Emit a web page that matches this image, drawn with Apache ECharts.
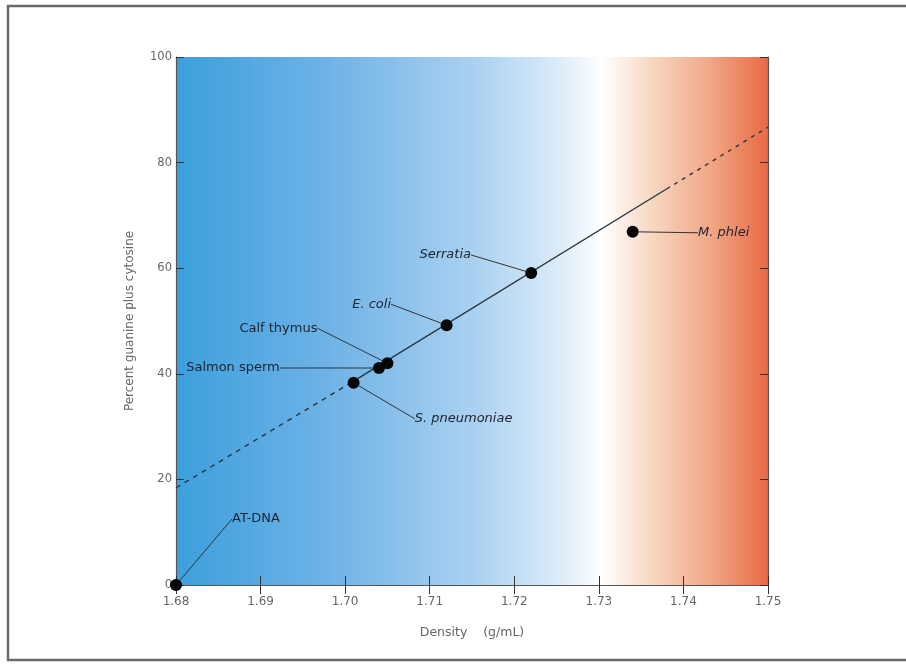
<!DOCTYPE html>
<html><head><meta charset="utf-8">
<script src="https://cdn.jsdelivr.net/npm/echarts@6/dist/echarts.min.js"></script>
<style>html,body{margin:0;padding:0;background:#fff}#c{width:906px;height:667px}</style>
</head><body><div id="c"></div>
<script>
// Data
const sampleNames = ['AT-DNA','S. pneumoniae','Salmon sperm','Calf thymus','E. coli','Serratia','M. phlei'];
const densities   = [1.680, 1.701, 1.704, 1.705, 1.712, 1.722, 1.734];
const gcPercent   = [0, 38.3, 41.1, 42.0, 49.2, 59.1, 66.9];
const italicNames = [false, true, false, false, true, true, true];
// fitted line: dashed lower extrapolation, solid middle, dashed upper extrapolation
const fitLowX  = [1.680, 1.701];  const fitLowY  = [18.4, 38.6];
const fitMidX  = [1.701, 1.738];  const fitMidY  = [38.6, 75.0];
const fitHighX = [1.738, 1.750];  const fitHighY = [75.0, 86.7];
const xTicks = [1.68,1.69,1.70,1.71,1.72,1.73,1.74,1.75];
const yTicks = [0,20,40,60,80,100];

// label offsets (px, from point centre to label centre)
const labelOffsets = [[80,-66],[110,36],[-146,0],[-109,-35],[-75,-21],[-86,-18],[91,1]];

const chart = echarts.init(document.getElementById('c'));
const pair = (xs, ys) => xs.map((x,i)=>[x, ys[i]]);
const font = '"DejaVu Sans", Verdana, sans-serif';

const fitStyle = (type) => ({type:'line', data:null, symbol:'none', silent:true, z:2,
  lineStyle:{color:'#2b3440', width:1.4, type:type}});

chart.setOption({
  animation:false,
  textStyle:{fontFamily:font},
  graphic:[{type:'rect', shape:{x:8,y:6,width:920,height:654}, style:{fill:'none', stroke:'#6a6a6a', lineWidth:2.5}, z:-10}],
  grid:{left:176, right:138, top:57, bottom:82, show:true, borderWidth:0,
    backgroundColor:new echarts.graphic.LinearGradient(0,0,1,0,[
      {offset:0, color:'#3c9fdc'},
      {offset:0.25, color:'#6db2e6'},
      {offset:0.5, color:'#a9d0f0'},
      {offset:0.64, color:'#d9eaf8'},
      {offset:0.72, color:'#ffffff'},
      {offset:0.8, color:'#f8d9c4'},
      {offset:0.9, color:'#f1a887'},
      {offset:1, color:'#e86a44'}])},
  xAxis:[{type:'value', min:1.68, max:1.75, interval:0.01,
      axisLine:{lineStyle:{color:'#555', width:1.2}},
      axisTick:{inside:true, length:9, lineStyle:{color:'#333'}},
      axisLabel:{color:'#666', fontSize:12, margin:11, formatter:v=>v.toFixed(2)},
      splitLine:{show:false},
      name:'Density    (g/mL)', nameLocation:'middle', nameGap:41,
      nameTextStyle:{color:'#666', fontSize:12.5}},
    {type:'value', position:'top', min:1.68, max:1.75, interval:0.01,
      axisLine:{show:true, lineStyle:{color:'#555', width:1.2}},
      axisTick:{inside:true, length:9, lineStyle:{color:'#333'}},
      axisLabel:{show:false}, splitLine:{show:false}}],
  yAxis:[{type:'value', min:0, max:100, interval:20,
      axisLine:{show:true, lineStyle:{color:'#555', width:1.2}},
      axisTick:{show:true, inside:true, length:8, lineStyle:{color:'#333'}},
      axisLabel:{color:'#666', fontSize:11.5, margin:4},
      splitLine:{show:false},
      name:'Percent guanine plus cytosine', nameLocation:'middle', nameGap:40,
      nameTextStyle:{color:'#666', fontSize:12}},
    {type:'value', position:'right', min:0, max:100, interval:20,
      axisLine:{show:true, lineStyle:{color:'#555', width:1.2}},
      axisTick:{show:true, inside:true, length:8, lineStyle:{color:'#333'}},
      axisLabel:{show:false}, splitLine:{show:false}}],
  series:[
    Object.assign(fitStyle([5,5]), {data:pair(fitLowX, fitLowY)}),
    Object.assign(fitStyle('solid'), {data:pair(fitMidX, fitMidY)}),
    Object.assign(fitStyle([4,5]), {data:pair(fitHighX, fitHighY)}),
    {type:'scatter', z:5, clip:false, symbolSize:12,
      itemStyle:{color:'#050505', opacity:1},
      data:densities.map((d,i)=>({value:[d,gcPercent[i]], name:sampleNames[i],
        label:{fontStyle: italicNames[i] ? 'italic' : 'normal'}})),
      label:{show:true, position:'inside', formatter:p=>p.name, color:'#1c2430', fontSize:13, fontFamily:font},
      labelLine:{show:true, lineStyle:{color:'#333', width:1}},
      labelLayout:function(p){const o=labelOffsets[p.dataIndex]; return {dx:o[0], dy:o[1]};}
    }
  ]
});
</script></body></html>
